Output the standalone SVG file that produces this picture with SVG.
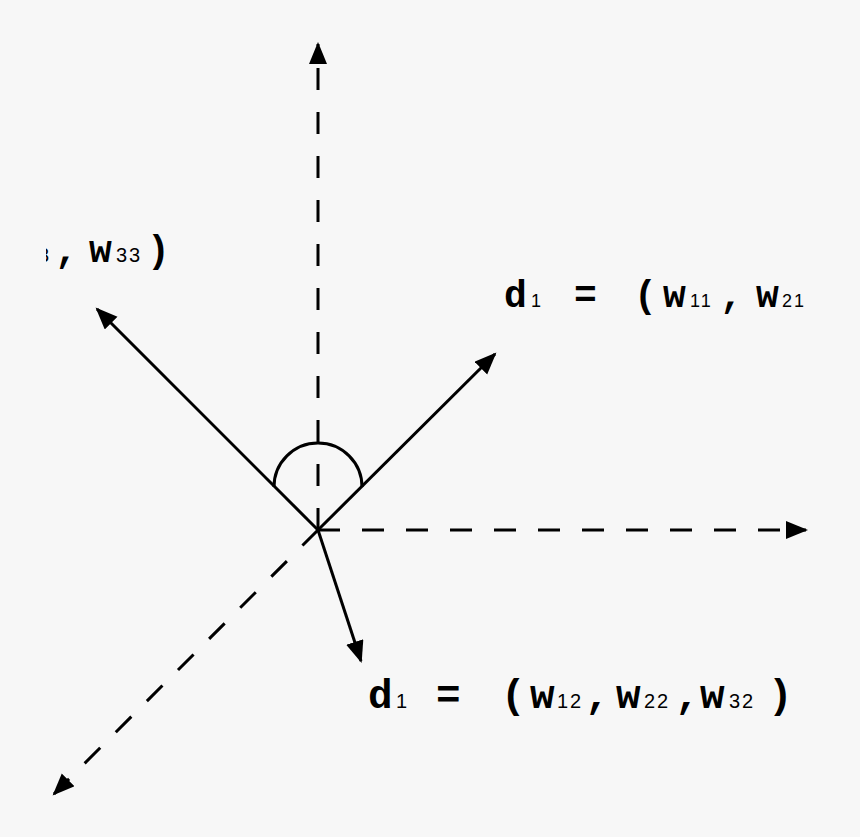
<svg xmlns="http://www.w3.org/2000/svg" width="860" height="837" viewBox="0 0 860 837">
<style>
.ln{stroke:#000;stroke-width:3;fill:none}
.ds{stroke-dasharray:22 22}
.m{font-family:"Liberation Mono","Courier New",monospace;font-weight:bold;fill:#000}
.s{font-family:"Liberation Sans",Arial,sans-serif;fill:#000;letter-spacing:2px}
</style>
<defs>
<marker id="ah" markerUnits="userSpaceOnUse" markerWidth="24" markerHeight="20" refX="20" refY="9" orient="auto">
<path d="M0,0 L22,9 L0,18 Z" fill="#000"/>
</marker>
<clipPath id="clipL"><rect x="46" y="200" width="200" height="100"/></clipPath>
</defs>
<rect width="860" height="837" fill="#f7f7f7"/>
<g id="connectors">
<line class="ln ds" x1="318" y1="530" x2="318" y2="44" marker-end="url(#ah)"/>
<line class="ln ds" x1="318" y1="530" x2="806" y2="530" marker-end="url(#ah)"/>
<line class="ln ds" x1="318" y1="530" x2="54" y2="794" marker-end="url(#ah)"/>
<line class="ln" x1="318" y1="530" x2="495" y2="354" marker-end="url(#ah)"/>
<line class="ln" x1="318" y1="530" x2="97" y2="309" marker-end="url(#ah)"/>
<line class="ln" x1="318" y1="530" x2="361" y2="661" marker-end="url(#ah)"/>
<path class="ln" d="M274,487 A44,44 0 0 1 362,487"/>
</g>
<g id="label-d1-top">
<text class="m" font-size="38" y="307"><tspan x="504">d</tspan><tspan x="574">=</tspan><tspan x="634">(</tspan><tspan x="663">w</tspan><tspan x="720">,</tspan><tspan x="756">w</tspan></text>
<text class="s" font-size="18" y="307"><tspan x="531">1</tspan><tspan x="690">11</tspan><tspan x="782">21</tspan></text>
</g>
<g id="label-d1-bottom">
<text class="m" font-size="41" y="708"><tspan x="368">d</tspan><tspan x="436">=</tspan><tspan x="501">(</tspan><tspan x="530">w</tspan><tspan x="585">,</tspan><tspan x="616">w</tspan><tspan x="675">,</tspan><tspan x="700">w</tspan><tspan x="768">)</tspan></text>
<text class="s" font-size="20" y="708"><tspan x="396">1</tspan><tspan x="557">12</tspan><tspan x="644">22</tspan><tspan x="729">32</tspan></text>
</g>
<g id="label-d3" clip-path="url(#clipL)">
<text class="s" font-size="20" y="262"><tspan x="38">3</tspan><tspan x="116">33</tspan></text>
<text class="m" font-size="38" y="262"><tspan x="55">,</tspan><tspan x="89">w</tspan><tspan x="147">)</tspan></text>
</g>
</svg>
